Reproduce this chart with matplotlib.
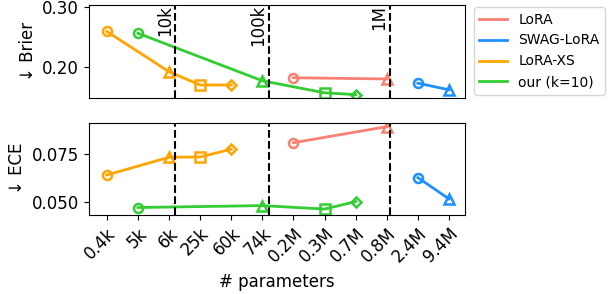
import numpy as np
import matplotlib.pyplot as plt
from matplotlib.ticker import FormatStrFormatter

plt.rcParams["font.size"] = 12

# categorical x axis: number of trainable parameters
params = ["0.4k", "5k", "6k", "25k", "60k", "74k", "0.2M", "0.3M", "0.7M", "0.8M", "2.4M", "9.4M"]

# index into params, Brier, ECE
lora_x = [6, 9]
lora_brier = [0.182, 0.180]
lora_ece = [0.0810, 0.0894]

swag_x = [10, 11]
swag_brier = [0.173, 0.162]
swag_ece = [0.0628, 0.0517]

xs_x = [0, 2, 3, 4]
xs_brier = [0.259, 0.192, 0.170, 0.170]
xs_ece = [0.0642, 0.0734, 0.0736, 0.0776]

our_x = [1, 5, 7, 8]
our_brier = [0.256, 0.177, 0.157, 0.154]
our_ece = [0.0472, 0.0482, 0.0464, 0.0503]

# dashed separators between decades
vlines = [2.2, 5.2, 9.1]
vlabels = ["10k", "100k", "1M"]

series = [
    ("LoRA", "salmon", lora_x, lora_brier, lora_ece, ["o", "^"]),
    ("SWAG-LoRA", "dodgerblue", swag_x, swag_brier, swag_ece, ["o", "^"]),
    ("LoRA-XS", "orange", xs_x, xs_brier, xs_ece, ["o", "^", "s", "D"]),
    ("our (k=10)", "limegreen", our_x, our_brier, our_ece, ["o", "^", "s", "D"]),
]

fig = plt.figure(figsize=(6.08, 2.94), dpi=100)
ax1 = fig.add_axes([0.146, 0.668, 0.619, 0.315])
ax2 = fig.add_axes([0.146, 0.270, 0.619, 0.313], sharex=ax1)

for ax, key in [(ax1, 3), (ax2, 4)]:
    for name, c, x, yb, ye, mk in series:
        y = yb if key == 3 else ye
        ax.plot(x, y, color=c, lw=2, label=name)
        for xi, yi, m in zip(x, y, mk):
            ms = 5.5 if m == "D" else 6.5
            ax.plot(xi, yi, marker=m, ms=ms, mfc="none", mec=c, mew=1.8, ls="none")
    for v in vlines:
        ax.axvline(v, color="black", ls="--", lw=1.5)

for v, lab in zip(vlines, vlabels):
    ax1.text(v - 0.05, 0.303, lab, rotation=90, ha="right", va="top")

ax1.set_xlim(-0.58, 11.52)
ax1.set_ylim(0.149, 0.303)
ax1.set_yticks([0.20, 0.30])
ax1.yaxis.set_major_formatter(FormatStrFormatter("%.2f"))
ax1.set_ylabel("↓ Brier")
ax1.tick_params(axis="x", bottom=False, labelbottom=False)

ax2.set_ylim(0.0435, 0.0915)
ax2.set_yticks([0.050, 0.075])
ax2.yaxis.set_major_formatter(FormatStrFormatter("%.3f"))
ax2.set_ylabel("↓ ECE")
ax2.set_xticks(range(len(params)))
ax2.set_xticklabels(params, rotation=45, ha="right", rotation_mode="anchor")
ax2.set_xlabel("# parameters", labelpad=5)

handles, labels = ax1.get_legend_handles_labels()
fig.legend(handles, labels, loc="upper left", bbox_to_anchor=(0.768, 1.0), fontsize=10)

fig.savefig("out.png")
